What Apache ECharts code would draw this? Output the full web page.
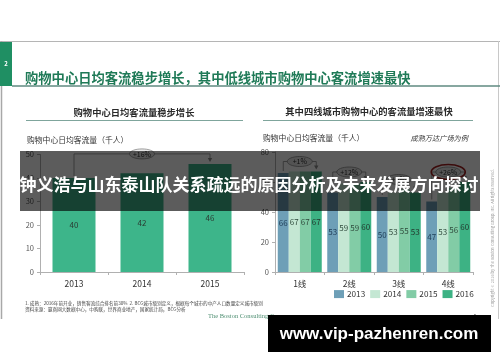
<!DOCTYPE html>
<html><head><meta charset="utf-8">
<script src="https://cdn.jsdelivr.net/npm/echarts@6/dist/echarts.min.js"></script>
<style>html,body{margin:0;padding:0;background:#fff}#c{width:500px;height:362px}</style>
</head><body><div id="c"></div>
<script>
// ---- data ----
const yearCats = ['2013', '2014', '2015'];
const yearValues = [40, 42, 46];
const tierCats = ['1线', '2线', '3线', '4线'];
const seriesNames = ['2013', '2014', '2015', '2016'];
const v2013 = [66, 53, 50, 47];
const v2014 = [67, 59, 53, 53];
const v2015 = [67, 59, 55, 56];
const v2016 = [67, 60, 53, 60];
const leftTicks = [0, 10, 20, 30, 40, 50];
const rightTicks = [0, 20, 40, 60, 80];
const leftGrowth = '+16%';
const tierGrowth = ['+1%', '+12%', '+6%', '+26%'];

const FONT = '"Noto Sans CJK SC", "Noto Sans", sans-serif';
const tierColors = ['#6e9fb7', '#c4e7d3', '#82cca6', '#3db284'];
const tierLabelColors = ['#1d3b55', '#2f4a3c', '#2f4a3c', '#23392e'];
const tierValues = [v2013, v2014, v2015, v2016];

const chart = echarts.init(document.getElementById('c'), null, {renderer: 'canvas'});

const axisCommon = {
  axisLine: {show: true, lineStyle: {color: '#b0b0b0', width: 1}},
  axisTick: {show: true, length: 3, lineStyle: {color: '#b0b0b0'}},
  splitLine: {show: false}
};

const series = [{
  name: 'total', type: 'bar', xAxisIndex: 0, yAxisIndex: 0,
  data: yearValues, barWidth: 43,
  itemStyle: {color: '#3db58a'},
  label: {show: true, position: 'inside', color: '#2b3b33', fontSize: 8, fontFamily: FONT},
  z: 2
}];
seriesNames.forEach((n, i) => {
  series.push({
    name: n, type: 'bar', xAxisIndex: 1, yAxisIndex: 1,
    data: tierValues[i], barWidth: 11, barGap: '0%',
    itemStyle: {color: tierColors[i]},
    label: {show: true, position: 'inside', color: tierLabelColors[i], fontSize: 8, fontFamily: FONT},
    z: 2
  });
});

const staticGraphics = [
  // slide frame
  {type: 'line', shape: {x1: 0, y1: 41.5, x2: 500, y2: 41.5}, style: {stroke: '#b5b5b5', lineWidth: 1}},
  {type: 'line', shape: {x1: 1.5, y1: 41, x2: 1.5, y2: 319}, style: {stroke: '#a8a8a8', lineWidth: 1.5}},
  {type: 'line', shape: {x1: 498.5, y1: 41, x2: 498.5, y2: 319}, style: {stroke: '#c8c8c8', lineWidth: 1}},
  {type: 'rect', shape: {x: 0, y: 42, width: 12, height: 44}, style: {fill: '#1f8f63'}},
  {type: 'text', x: 6, y: 64, style: {text: '2', fill: '#fff', font: 'bold 6px ' + FONT, textAlign: 'center', textVerticalAlign: 'middle'}},
  {type: 'text', x: 25, y: 78, style: {text: '购物中心日均客流稳步增长，其中低线城市购物中心客流增速最快', fill: '#1f7a57', font: 'bold 13.3px ' + FONT, textAlign: 'left', textVerticalAlign: 'middle'}},
  {type: 'line', shape: {x1: 12, y1: 86, x2: 500, y2: 86}, style: {stroke: '#5f8a80', lineWidth: 1.3}},
  // subtitles
  {type: 'text', x: 134, y: 112, style: {text: '购物中心日均客流量稳步增长', fill: '#2a2a2a', font: 'bold 9.3px ' + FONT, textAlign: 'center', textVerticalAlign: 'middle'}},
  {type: 'line', shape: {x1: 26, y1: 120.5, x2: 243, y2: 120.5}, style: {stroke: '#7fa59c', lineWidth: 1}},
  {type: 'text', x: 369, y: 111, style: {text: '其中四线城市购物中心的客流量增速最快', fill: '#2a2a2a', font: 'bold 9.3px ' + FONT, textAlign: 'center', textVerticalAlign: 'middle'}},
  {type: 'line', shape: {x1: 263, y1: 120.5, x2: 473, y2: 120.5}, style: {stroke: '#7fa59c', lineWidth: 1}},
  // axis titles
  {type: 'text', x: 27, y: 140, style: {text: '购物中心日均客流量（千人）', fill: '#333', font: '7.8px ' + FONT, textAlign: 'left', textVerticalAlign: 'middle'}},
  {type: 'text', x: 263, y: 138, style: {text: '购物中心日均客流量（千人）', fill: '#333', font: '7.8px ' + FONT, textAlign: 'left', textVerticalAlign: 'middle'}},
  {type: 'text', x: 468, y: 138, style: {text: '成熟万达广场为例', fill: '#333', font: 'italic 7.2px ' + FONT, textAlign: 'right', textVerticalAlign: 'middle'}},
  // footnotes
  {type: 'text', x: 25, y: 303, style: {text: '1. 成熟：2016年前开业，销售客流综合排名前30%  2. BCG城市级别定义，根据每个城市的中产人口数量定义城市级别', fill: '#444', font: '4.6px ' + FONT, textAlign: 'left', textVerticalAlign: 'middle'}},
  {type: 'text', x: 25, y: 309, style: {text: '资料来源：赢商网大数据中心，中购联，世界商业地产，国家统计局，BCG分析', fill: '#444', font: '4.6px ' + FONT, textAlign: 'left', textVerticalAlign: 'middle'}},
  {type: 'text', x: 208, y: 316, style: {text: 'The Boston Consulting Group', fill: '#4f8f72', font: '6.5px "Liberation Serif", serif', textAlign: 'left', textVerticalAlign: 'middle'}},
  {type: 'text', x: 475, y: 316, style: {text: '6', fill: '#555', font: '5px ' + FONT, textAlign: 'center', textVerticalAlign: 'middle'}},
  {type: 'text', x: 492, y: 238, rotation: Math.PI / 2, style: {text: 'Copyright © 2016 by The Boston Consulting Group, Inc. All rights reserved.', fill: '#a0a0a0', font: '4px ' + FONT, textAlign: 'center', textVerticalAlign: 'middle'}}
];

chart.setOption({
  animation: false,
  backgroundColor: '#fff',
  textStyle: {fontFamily: FONT},
  grid: [
    {left: 40, top: 154.5, width: 204, height: 117.5, containLabel: false},
    {left: 275, top: 152, width: 198, height: 120, containLabel: false}
  ],
  xAxis: [
    Object.assign({type: 'category', gridIndex: 0, data: yearCats,
      axisLabel: {color: '#333', fontSize: 8.5, margin: 8, fontFamily: FONT}}, axisCommon),
    Object.assign({type: 'category', gridIndex: 1, data: tierCats,
      axisLabel: {color: '#333', fontSize: 8.5, margin: 8, fontFamily: FONT}}, axisCommon)
  ],
  yAxis: [
    Object.assign({type: 'value', gridIndex: 0, min: leftTicks[0], max: leftTicks[leftTicks.length - 1], interval: leftTicks[1] - leftTicks[0],
      axisLabel: {color: '#555', fontSize: 7.5, margin: 6, fontFamily: FONT}}, axisCommon),
    Object.assign({type: 'value', gridIndex: 1, min: rightTicks[0], max: rightTicks[rightTicks.length - 1], interval: rightTicks[1] - rightTicks[0],
      axisLabel: {color: '#555', fontSize: 7.5, margin: 6, fontFamily: FONT}}, axisCommon)
  ],
  legend: {
    data: seriesNames, left: 334, top: 290, padding: 0,
    itemWidth: 10, itemHeight: 8, itemGap: 5, icon: 'rect',
    textStyle: {fontSize: 8.2, color: '#333', fontFamily: FONT, padding: [0, 0, 0, -2]}
  },
  series: series,
  graphic: staticGraphics
});

// ---- annotations computed from the actual bar layout ----
function barLayout(seriesIndex, dataIndex) {
  const s = chart.getModel().getSeriesByIndex(seriesIndex);
  const l = s.getData().getItemLayout(dataIndex);
  return {cx: l.x + l.width / 2, top: Math.min(l.y, l.y + l.height)};
}
const ann = [];
function bracket(first, last, tops, label, red) {
  const by = Math.min.apply(null, tops) - 10;
  ann.push({type: 'polyline', z: 50, shape: {points: [[first.cx, first.top - 2], [first.cx, by], [last.cx, by], [last.cx, last.top - 5]]},
    style: {stroke: '#8a8a8a', lineWidth: 0.8, fill: null}});
  ann.push({type: 'polygon', z: 50, shape: {points: [[last.cx - 2.2, last.top - 6], [last.cx + 2.2, last.top - 6], [last.cx, last.top - 2]]},
    style: {fill: '#8a8a8a'}});
  const mx = (first.cx + last.cx) / 2;
  ann.push({type: 'ellipse', z: 51, shape: {cx: mx, cy: by, rx: 12.5, ry: 5}, style: {fill: '#e6e6e6', stroke: '#8a8a8a', lineWidth: 0.8}});
  if (red) {
    ann.push({type: 'ellipse', z: 52, shape: {cx: mx, cy: by, rx: 17, ry: 7.5}, style: {fill: null, stroke: '#a3201f', lineWidth: 1.6}});
  }
  ann.push({type: 'text', z: 53, x: mx, y: by, style: {text: label, fill: '#333', font: '7px ' + FONT, textAlign: 'center', textVerticalAlign: 'middle'}});
}
// left chart
{
  const a = barLayout(0, 0), b = barLayout(0, yearValues.length - 1);
  const tops = yearValues.map((_, i) => barLayout(0, i).top);
  bracket(a, b, tops, leftGrowth, false);
}
// right chart
tierCats.forEach((_, j) => {
  const a = barLayout(1, j), b = barLayout(4, j);
  const tops = [1, 2, 3, 4].map(si => barLayout(si, j).top);
  bracket(a, b, tops, tierGrowth[j], j === tierCats.length - 1);
});

// overlays (banner + watermark)
ann.push({type: 'rect', z: 100, shape: {x: 20, y: 151, width: 460, height: 60}, style: {fill: 'rgba(0,0,0,0.64)'}});
ann.push({type: 'text', z: 101, x: 249, y: 185, style: {text: '钟义浩与山东泰山队关系疏远的原因分析及未来发展方向探讨', fill: '#fff', font: 'bold 17px ' + FONT, textAlign: 'center', textVerticalAlign: 'middle'}});
ann.push({type: 'rect', z: 100, shape: {x: 268, y: 315, width: 223, height: 37}, style: {fill: '#000'}});
ann.push({type: 'text', z: 101, x: 379, y: 334, style: {text: 'www.vip-pazhenren.com', fill: '#fff', font: 'bold 17px "Liberation Sans", Arial, sans-serif', textAlign: 'center', textVerticalAlign: 'middle'}});

chart.setOption({graphic: staticGraphics.concat(ann)});
</script>
</body></html>
